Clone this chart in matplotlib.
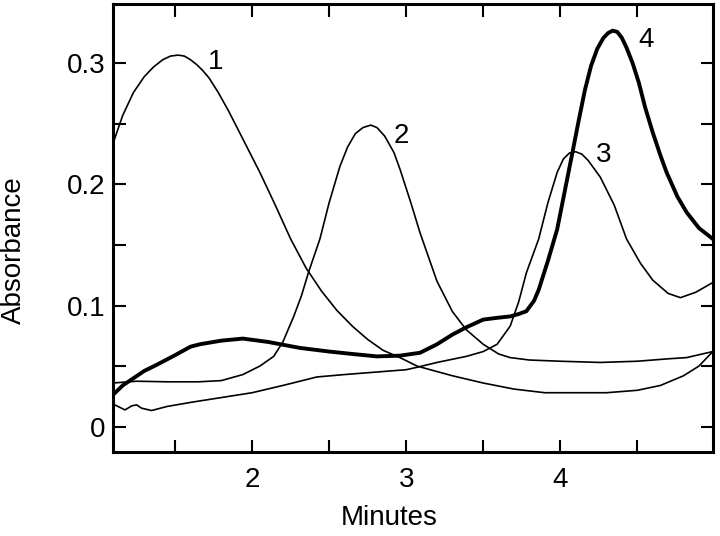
import matplotlib
matplotlib.use("Agg")
import matplotlib.pyplot as plt
from matplotlib.ticker import FixedLocator, FixedFormatter

plt.rcParams['font.family'] = ['Liberation Sans', 'DejaVu Sans']

# curve 1 (early peak)
x1 = [1.095, 1.16, 1.23, 1.30, 1.36, 1.42, 1.47, 1.52, 1.56, 1.60, 1.64,
      1.68, 1.72, 1.78, 1.85, 1.95, 2.05, 2.15, 2.25, 2.35, 2.45, 2.55, 2.65,
      2.75, 2.85, 2.96, 3.07, 3.3, 3.5, 3.7, 3.9, 4.1, 4.3, 4.5, 4.65, 4.8,
      4.9, 4.99]
y1 = [0.233, 0.257, 0.276, 0.289, 0.297, 0.303, 0.306, 0.3068, 0.306, 0.303,
      0.299, 0.294, 0.288, 0.276, 0.260, 0.235, 0.210, 0.183, 0.155, 0.131,
      0.112, 0.096, 0.083, 0.072, 0.063, 0.057, 0.050, 0.042, 0.036, 0.031,
      0.028, 0.028, 0.028, 0.030, 0.034, 0.042, 0.050, 0.062]

# curve 2
x2 = [1.095, 1.25, 1.45, 1.65, 1.8, 1.94, 2.05, 2.14, 2.2, 2.27, 2.32, 2.365,
      2.44, 2.5, 2.57, 2.62, 2.67, 2.72, 2.77, 2.81, 2.86, 2.92, 2.96, 3.03,
      3.09, 3.2, 3.3, 3.39, 3.5, 3.6, 3.675, 3.8, 4.0, 4.26, 4.5, 4.7, 4.82,
      4.99]
y2 = [0.036, 0.0375, 0.037, 0.037, 0.038, 0.043, 0.050, 0.058, 0.070, 0.091,
      0.108, 0.127, 0.155, 0.185, 0.215, 0.231, 0.242, 0.247, 0.249, 0.247,
      0.240, 0.2265, 0.2125, 0.185, 0.160, 0.120, 0.095, 0.080, 0.068, 0.060,
      0.057, 0.055, 0.054, 0.053, 0.054, 0.056, 0.057, 0.062]

# curve 3
x3 = [1.095, 1.175, 1.218, 1.25, 1.283, 1.348, 1.446, 1.6, 1.8, 2.0, 2.2,
      2.42, 2.6, 2.8, 3.0, 3.07, 3.2, 3.39, 3.5, 3.59, 3.675, 3.73, 3.78,
      3.86, 3.92, 3.98, 4.02, 4.06, 4.1, 4.14, 4.18, 4.26, 4.35, 4.43, 4.52,
      4.6, 4.7, 4.78, 4.88, 4.99]
y3 = [0.0188, 0.0138, 0.0171, 0.018, 0.0152, 0.0133, 0.0166, 0.020, 0.024,
      0.028, 0.034, 0.041, 0.043, 0.045, 0.047, 0.049, 0.053, 0.058, 0.062,
      0.068, 0.083, 0.103, 0.127, 0.155, 0.185, 0.210, 0.221, 0.226, 0.227,
      0.225, 0.220, 0.206, 0.183, 0.155, 0.135, 0.121, 0.110, 0.1065, 0.111,
      0.119]

# curve 4 (thick)
x4 = [1.095, 1.16, 1.23, 1.30, 1.38, 1.5, 1.6, 1.66, 1.8, 1.94, 2.1, 2.31,
      2.5, 2.65, 2.81, 2.96, 3.09, 3.2, 3.3, 3.39, 3.5, 3.6, 3.675, 3.73,
      3.78, 3.83, 3.86, 3.92, 3.98, 4.03, 4.08, 4.12, 4.16, 4.2, 4.24, 4.28,
      4.31, 4.34, 4.37, 4.40, 4.43, 4.47, 4.51, 4.55, 4.6, 4.65, 4.69, 4.76,
      4.82, 4.9, 4.99]
y4 = [0.026, 0.034, 0.040, 0.046, 0.051, 0.059, 0.066, 0.068, 0.071, 0.0727,
      0.070, 0.065, 0.062, 0.060, 0.058, 0.0586, 0.061, 0.068, 0.076, 0.082,
      0.0884, 0.090, 0.091, 0.093, 0.0953, 0.104, 0.113, 0.137, 0.163, 0.195,
      0.227, 0.253, 0.278, 0.298, 0.312, 0.321, 0.325, 0.327, 0.326, 0.321,
      0.313, 0.300, 0.284, 0.264, 0.243, 0.224, 0.210, 0.190, 0.177, 0.164,
      0.155]

curve_labels = ['1', '2', '3', '4']

fig = plt.figure(figsize=(7.2, 5.36), dpi=100)
ax = fig.add_axes([0.1565, 0.1573, 0.8335, 0.8352])

ax.plot(x1, y1, color='black', lw=1.2, solid_joinstyle='round')
ax.plot(x2, y2, color='black', lw=1.2, solid_joinstyle='round')
ax.plot(x3, y3, color='black', lw=1.2, solid_joinstyle='round')
ax.plot(x4, y4, color='black', lw=2.8, solid_joinstyle='round')

# number labels next to peaks
label_pos = [(1.76, 0.301), (2.97, 0.240), (4.28, 0.224), (4.56, 0.319)]
for txt, (lx, ly) in zip(curve_labels, label_pos):
    ax.text(lx, ly, txt, fontsize=20, ha='center', va='center')

ax.set_xlim(1.095, 4.99)
ax.set_ylim(-0.0207, 0.349)

ax.xaxis.set_major_locator(FixedLocator([2, 3, 4]))
ax.xaxis.set_major_formatter(FixedFormatter(['2', '3', '4']))
ax.xaxis.set_minor_locator(FixedLocator([1.5, 2.5, 3.5, 4.5]))
ax.yaxis.set_major_locator(FixedLocator([0, 0.1, 0.2, 0.3]))
ax.yaxis.set_major_formatter(FixedFormatter(['0', '0.1', '0.2', '0.3']))
ax.yaxis.set_minor_locator(FixedLocator([0.05, 0.15, 0.25]))

ax.tick_params(which='both', direction='in', top=True, right=True,
               length=9, width=1.5, labelsize=20)
ax.tick_params(axis='x', pad=11)
ax.tick_params(axis='y', pad=5)

for s in ax.spines.values():
    s.set_linewidth(2.2)

ax.set_xlabel('Minutes', fontsize=20)
ax.set_ylabel('Absorbance', fontsize=20)
ax.xaxis.set_label_coords(0.46, -0.12)
ax.yaxis.set_label_coords(-0.143, 0.45)

fig.savefig('out.png', dpi=100)
